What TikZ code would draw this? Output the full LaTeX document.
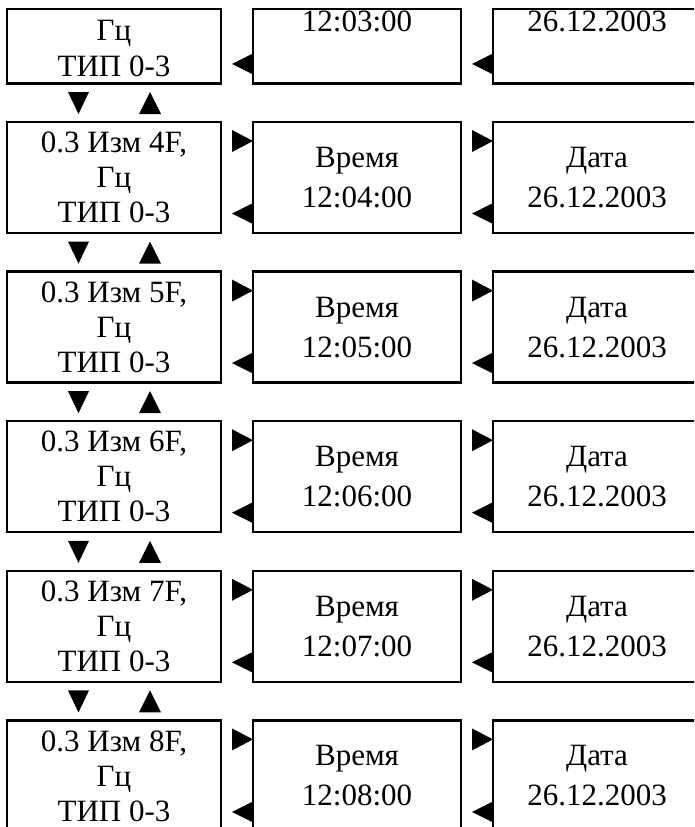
\documentclass[tikz,border=0pt]{standalone}
\usepackage{fontspec}
\setmainfont{Liberation Serif}
\usetikzlibrary{positioning,calc}

\tikzset{
  menu/.style={draw, line width=2.5pt, inner sep=0pt, outer sep=0pt, minimum height=111pt, align=center},
  wide/.style={menu, minimum width=214pt, font=\fontsize{31}{35}\selectfont},
  narrow/.style={menu, minimum width=208pt, font=\fontsize{31}{40}\selectfont},
  txt/.style={inner sep=0pt, outer sep=0pt, align=center, font=\fontsize{31}{36}\selectfont},
  tri/.style={fill=black},
}

\begin{document}
\begin{tikzpicture}[x=1pt, y=1pt]
  \useasboundingbox (0,0) rectangle (694,-827);
  \clip (0,0) rectangle (694,-827);

  % top row (cut off)
  \node[wide, minimum height=74.4pt] (izm3) at (114,-46.2) {};
  \node[narrow, minimum height=74.4pt] (vr3) at (357,-46.2) {};
  \node[narrow, minimum height=74.4pt] (dt3) at (597,-46.2) {};
  \node[txt, below=11.5pt of izm3.north] (izm3t) {Гц\\ТИП 0-3};
  \node[txt, below=2pt of vr3.north] (vr3t) {12:03:00};
  \node[txt, below=2pt of dt3.north] (dt3t) {26.12.2003};
  \fill[tri] ($(vr3.south west)+(0,9)$) -- ++(0,21) -- ++(-21,-10.5) -- cycle;
  \fill[tri] ($(dt3.south west)+(0,9)$) -- ++(0,21) -- ++(-21,-10.5) -- cycle;

  \foreach \n [evaluate=\n as \yc using -177.5-(\n-4)*149.6, remember=\n as \m (initially 3)] in {4,...,8} {
    \node[wide] (izm\n) at (114,\yc) {0.3 Изм \n F,\\Гц\\ТИП 0-3};
    \node[narrow] (vr\n) at (357,\yc) {Время\\12:0\n:00};
    \node[narrow] (dt\n) at (597,\yc) {Дата\\26.12.2003};

    % down / up between izm\m and izm\n
    \fill[tri] ($(izm\n.north west)+(61,30)$) -- ++(21,0) -- ++(-10.5,-22) -- cycle;
    \fill[tri] ($(izm\n.north west)+(132,8)$) -- ++(22,0) -- ++(-11,22) -- cycle;

    % right / left
    \fill[tri] ($(vr\n.north west)+(-21,-8)$) -- ++(21,-11) -- ++(-21,-11) -- cycle;
    \fill[tri] ($(dt\n.north west)+(-21,-8)$) -- ++(21,-11) -- ++(-21,-11) -- cycle;
    \fill[tri] ($(vr\n.south west)+(0,9)$) -- ++(0,21) -- ++(-21,-10.5) -- cycle;
    \fill[tri] ($(dt\n.south west)+(0,9)$) -- ++(0,21) -- ++(-21,-10.5) -- cycle;
  }
\end{tikzpicture}
\end{document}
